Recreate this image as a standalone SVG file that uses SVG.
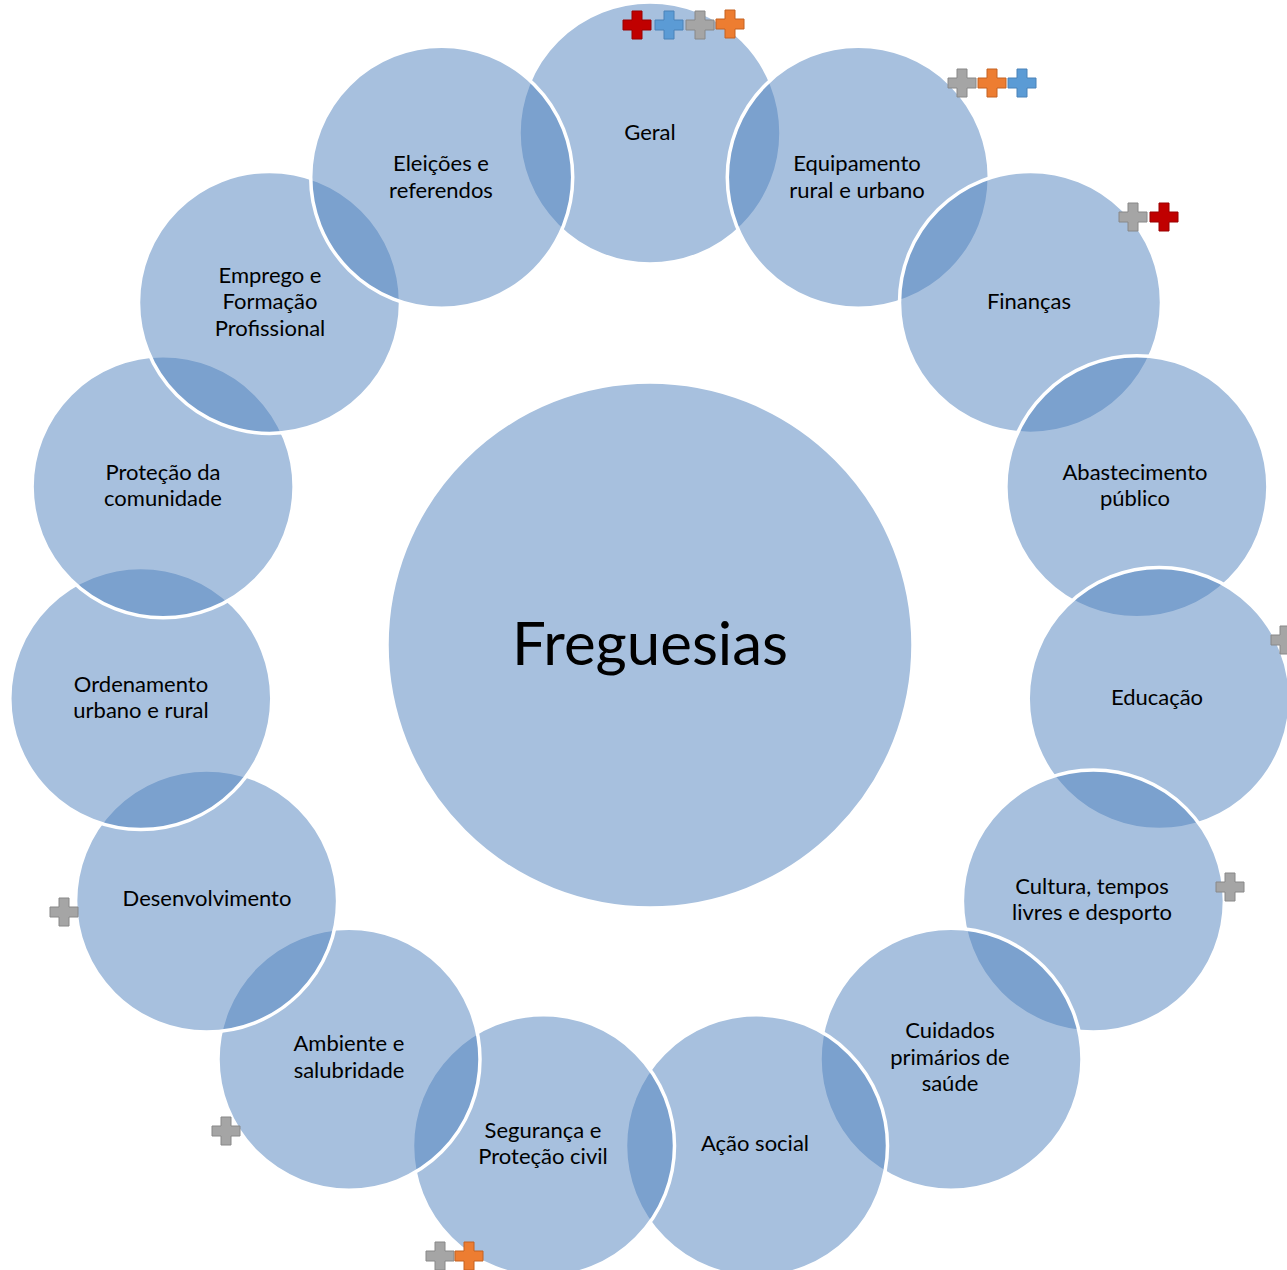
<svg xmlns="http://www.w3.org/2000/svg" width="1287" height="1270" viewBox="0 0 1287 1270">
<defs>
<style>
.c{fill:#4F81BD;fill-opacity:0.5;stroke:#FFFFFF;stroke-width:3.5}
.t{font-family:Lato,"Noto Sans",sans-serif;font-size:22px;fill:#000;text-anchor:middle}
.big{font-family:Lato,"Noto Sans",sans-serif;font-size:60px;fill:#000;text-anchor:middle}
</style>
<path id="cross" d="M-5,-14H5V-5H14V5H5V14H-5V5H-14V-5H-5Z"/>
</defs>
<rect width="1287" height="1270" fill="#FFFFFF"/>
<g id="center">
<circle class="c" cx="650" cy="645" r="263"/>
<text class="big" x="650" y="665">Freguesias</text>
</g>
<g id="n0"><circle class="c" cx="650" cy="133" r="131"/><text class="t" x="650" y="140">Geral</text></g>
<g id="n1"><circle class="c" cx="858.3" cy="177.3" r="131"/><text class="t" x="857" y="171">Equipamento</text><text class="t" x="857" y="198">rural e urbano</text></g>
<g id="n2"><circle class="c" cx="1030.5" cy="302.4" r="131"/><text class="t" x="1029" y="309">Finanças</text></g>
<g id="n3"><circle class="c" cx="1136.9" cy="486.8" r="131"/><text class="t" x="1135" y="480">Abastecimento</text><text class="t" x="1135" y="506">público</text></g>
<g id="n4"><circle class="c" cx="1159.2" cy="698.5" r="131"/><text class="t" x="1157" y="705">Educação</text></g>
<g id="n5"><circle class="c" cx="1093.4" cy="901" r="131"/><text class="t" x="1092" y="894">Cultura, tempos</text><text class="t" x="1092" y="920">livres e desporto</text></g>
<g id="n6"><circle class="c" cx="951" cy="1059.2" r="131"/><text class="t" x="950" y="1038">Cuidados</text><text class="t" x="950" y="1065">primários de</text><text class="t" x="950" y="1091">saúde</text></g>
<g id="n7"><circle class="c" cx="756.5" cy="1145.8" r="131"/><text class="t" x="755" y="1151">Ação social</text></g>
<g id="n8"><circle class="c" cx="543.5" cy="1145.8" r="131"/><text class="t" x="543" y="1138">Segurança e</text><text class="t" x="543" y="1164">Proteção civil</text></g>
<g id="n9"><circle class="c" cx="349" cy="1059.2" r="131"/><text class="t" x="349" y="1051">Ambiente e</text><text class="t" x="349" y="1078">salubridade</text></g>
<g id="n10"><circle class="c" cx="206.6" cy="901" r="131"/><text class="t" x="207" y="906">Desenvolvimento</text></g>
<g id="n11"><circle class="c" cx="140.8" cy="698.5" r="131"/><text class="t" x="141" y="692">Ordenamento</text><text class="t" x="141" y="718">urbano e rural</text></g>
<g id="n12"><circle class="c" cx="163.1" cy="486.8" r="131"/><text class="t" x="163" y="480">Proteção da</text><text class="t" x="163" y="506">comunidade</text></g>
<g id="n13"><circle class="c" cx="269.5" cy="302.4" r="131"/><text class="t" x="270" y="283">Emprego e</text><text class="t" x="270" y="309">Formação</text><text class="t" x="270" y="336">Profissional</text></g>
<g id="n14"><circle class="c" cx="441.7" cy="177.3" r="131"/><text class="t" x="441" y="171">Eleições e</text><text class="t" x="441" y="198">referendos</text></g>
<g id="connectors"></g>
<g id="markers" stroke-width="1">
<use href="#cross" x="637" y="25" fill="#C00000" stroke="#9A0000"/>
<use href="#cross" x="669" y="25" fill="#5B9BD5" stroke="#4A82B8"/>
<use href="#cross" x="700" y="25" fill="#A5A5A5" stroke="#888888"/>
<use href="#cross" x="730" y="24" fill="#ED7D31" stroke="#C46222"/>
<use href="#cross" x="962" y="83" fill="#A5A5A5" stroke="#888888"/>
<use href="#cross" x="992" y="83" fill="#ED7D31" stroke="#C46222"/>
<use href="#cross" x="1022" y="83" fill="#5B9BD5" stroke="#4A82B8"/>
<use href="#cross" x="1133" y="217" fill="#A5A5A5" stroke="#888888"/>
<use href="#cross" x="1164" y="217" fill="#C00000" stroke="#9A0000"/>
<use href="#cross" x="1285" y="640" fill="#A5A5A5" stroke="#888888"/>
<use href="#cross" x="1230" y="887" fill="#A5A5A5" stroke="#888888"/>
<use href="#cross" x="64" y="912" fill="#A5A5A5" stroke="#888888"/>
<use href="#cross" x="226" y="1131" fill="#A5A5A5" stroke="#888888"/>
<use href="#cross" x="440" y="1256" fill="#A5A5A5" stroke="#888888"/>
<use href="#cross" x="469" y="1256" fill="#ED7D31" stroke="#C46222"/>
</g>
</svg>
